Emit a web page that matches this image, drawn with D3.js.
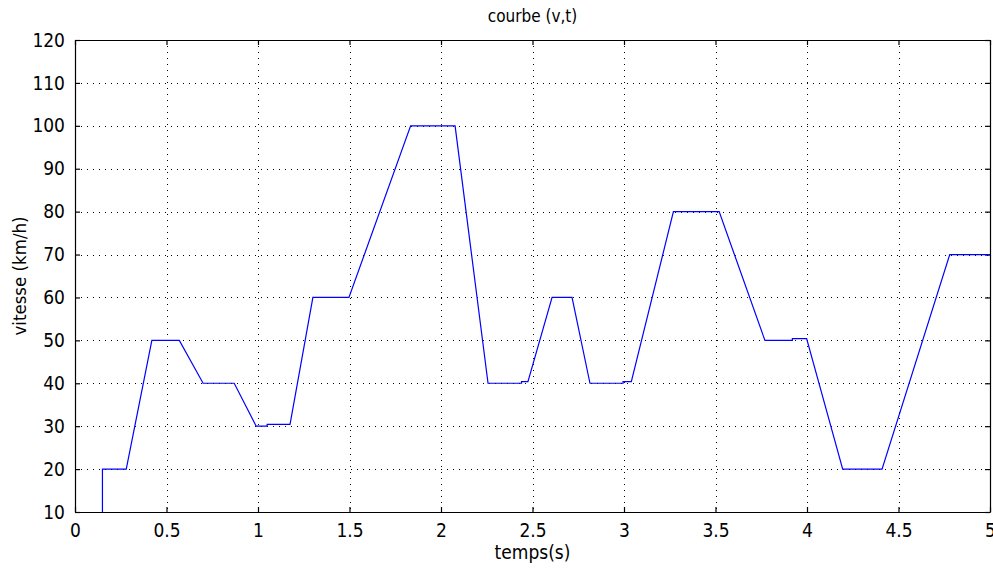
<!DOCTYPE html>
<html lang="fr">
<head>
  <meta charset="UTF-8">
  <title>courbe (v,t)</title>
  <script src="https://d3js.org/d3.v7.min.js"></script>
  <style>
    body {
      margin: 0;
      padding: 0;
      background: #fff;
    }
    svg text {
      font-family: "Liberation Sans Narrow", "DejaVu Sans Condensed", "Liberation Sans", Arial, sans-serif;
      fill: #000;
    }
    .grid line {
      stroke: #000;
      stroke-width: 1;
      stroke-dasharray: 1 5;
    }
  </style>
</head>
<body>
  <div id="chart"></div>
  <script>
    // time (s) and speed (km/h)
    const temps = [0.15, 0.15, 0.28, 0.42, 0.57, 0.70, 0.87, 0.99, 1.05, 1.05, 1.175,
      1.30, 1.497, 1.834, 2.077, 2.257, 2.44, 2.44, 2.475, 2.607, 2.716, 2.814, 2.995,
      2.995, 3.04, 3.27, 3.52, 3.77, 3.92, 3.92, 3.998, 4.195, 4.41, 4.78, 5.0];
    const vitesse = [10, 20, 20, 50, 50, 40, 40, 30, 30, 30.4, 30.4,
      60, 60, 100, 100, 40, 40, 40.4, 40.4, 60, 60, 40, 40,
      40.4, 40.4, 80, 80, 50, 50, 50.4, 50.4, 20, 20, 70, 70];

    const xTicks = [0, 0.5, 1, 1.5, 2, 2.5, 3, 3.5, 4, 4.5, 5];
    const yTicks = [10, 20, 30, 40, 50, 60, 70, 80, 90, 100, 110, 120];

    const width = 993;
    const height = 569;
    const margin = { top: 40, right: 3, bottom: 57, left: 75 };
    const innerW = width - margin.left - margin.right;
    const innerH = height - margin.top - margin.bottom;

    const x = d3.scaleLinear().domain([0, 5]).range([0, innerW]);
    const y = d3.scaleLinear().domain([10, 120]).range([innerH, 0]);

    const svg = d3.select("#chart")
      .append("svg")
      .attr("width", width)
      .attr("height", height);

    const g = svg.append("g")
      .attr("transform", `translate(${margin.left},${margin.top})`);

    // dotted grid
    const grid = g.append("g").attr("class", "grid");
    grid.selectAll(".gx")
      .data(xTicks.slice(1, -1))
      .enter()
      .append("line")
      .attr("x1", d => Math.round(x(d)) + 0.5)
      .attr("x2", d => Math.round(x(d)) + 0.5)
      .attr("y1", 0)
      .attr("y2", innerH);
    grid.selectAll(".gy")
      .data(yTicks.slice(1, -1))
      .enter()
      .append("line")
      .attr("y1", d => Math.round(y(d)) + 0.5)
      .attr("y2", d => Math.round(y(d)) + 0.5)
      .attr("x1", 0)
      .attr("x2", innerW);

    // axes with inward ticks (box style)
    const tickLen = 5;
    const xAxis = g.append("g")
      .attr("transform", `translate(0,${innerH})`)
      .call(d3.axisBottom(x).tickValues(xTicks).tickSizeInner(-tickLen).tickSizeOuter(0)
        .tickFormat(d3.format("")).tickPadding(12));
    const xAxisTop = g.append("g")
      .call(d3.axisTop(x).tickValues(xTicks).tickSizeInner(-tickLen).tickSizeOuter(0)
        .tickFormat(""));
    const yAxis = g.append("g")
      .call(d3.axisLeft(y).tickValues(yTicks).tickSizeInner(-tickLen).tickSizeOuter(0)
        .tickPadding(10));
    const yAxisRight = g.append("g")
      .attr("transform", `translate(${innerW},0)`)
      .call(d3.axisRight(y).tickValues(yTicks).tickSizeInner(-tickLen).tickSizeOuter(0)
        .tickFormat(""));

    [xAxis, xAxisTop, yAxis, yAxisRight].forEach(a => {
      a.selectAll(".domain").attr("stroke", "#000").attr("stroke-width", 1.2);
      a.selectAll(".tick line").attr("stroke", "#000").attr("stroke-width", 1.2);
      a.selectAll("text").attr("font-size", 19).attr("fill", "#000")
        .style("font-family", "\"Liberation Sans Narrow\", \"DejaVu Sans Condensed\", \"Liberation Sans\", Arial, sans-serif");
    });
    xAxis.selectAll("text").attr("dy", "0.71em");

    // speed curve
    const points = temps.map((t, i) => [t, vitesse[i]]);
    g.append("path")
      .datum(points)
      .attr("fill", "none")
      .attr("stroke", "#0000ff")
      .attr("stroke-width", 1.2)
      .attr("d", d3.line().x(d => x(d[0])).y(d => y(d[1])));

    // labels
    svg.append("text")
      .attr("x", margin.left + innerW / 2)
      .attr("y", 22)
      .attr("text-anchor", "middle")
      .attr("font-size", 17)
      .text("courbe (v,t)");

    svg.append("text")
      .attr("x", margin.left + innerW / 2)
      .attr("y", 559)
      .attr("text-anchor", "middle")
      .attr("font-size", 19)
      .text("temps(s)");

    svg.append("text")
      .attr("transform", `translate(26,${margin.top + innerH / 2}) rotate(-90)`)
      .attr("text-anchor", "middle")
      .attr("font-size", 18.5)
      .text("vitesse (km/h)");
  </script>
</body>
</html>
